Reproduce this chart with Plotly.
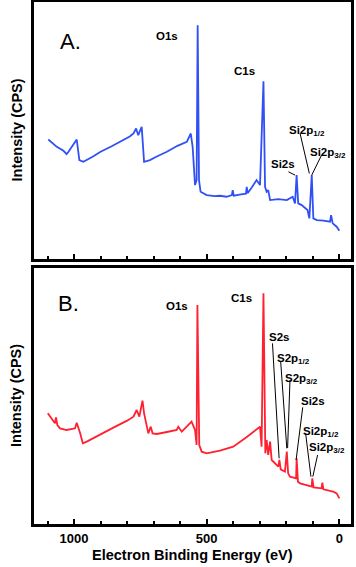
import plotly.graph_objects as go

# ---------------- data (intensity in arbitrary units) ----------------
energy_A = [1097, 1065, 1040, 1028, 1021, 1009, 996, 990, 980, 965, 930, 900, 860, 820, 790,
            776, 766, 758, 745, 736, 714, 690, 650, 610, 575, 560, 553, 544, 538, 534, 529,
            523, 500, 470, 450, 425, 405, 402, 398, 370, 352, 349, 346, 330, 312, 299, 286,
            280, 274, 268, 261, 230, 198, 176, 167, 161, 155, 142, 129, 120, 113, 104, 98,
            85, 60, 35, 31, 25, 10, 0]
intensity_A = [359, 337, 325, 315, 322, 337, 352, 359, 297, 292, 307, 322, 338, 355, 368,
               377, 392, 372, 397, 292, 297, 307, 322, 340, 352, 377, 337, 222, 237, 702, 237,
               202, 192, 189, 190, 187, 192, 207, 190, 194, 196, 217, 198, 215, 237, 222, 534,
               217, 202, 207, 177, 180, 177, 187, 167, 252, 167, 162, 152, 147, 122, 252, 122,
               117, 115, 112, 132, 107, 97, 85]

energy_B = [1099, 1090, 1072, 1068, 1063, 1053, 1028, 996, 990, 977, 967, 952, 900, 850,
            800, 776, 764, 754, 742, 736, 720, 711, 704, 688, 650, 613, 607, 594, 557, 544,
            538, 535, 528, 519, 500, 450, 400, 350, 299, 293, 286, 279, 274, 268, 261, 255,
            230, 226, 221, 205, 198, 193, 186, 163, 161, 156, 148, 120, 104, 102, 97, 67,
            64, 60, 23, 10, 0]
intensity_B = [332, 322, 302, 320, 297, 287, 282, 287, 304, 272, 242, 247, 270, 290,
               310, 322, 342, 322, 370, 332, 272, 292, 272, 270, 276, 282, 292, 277, 307, 282,
               237, 657, 237, 217, 212, 220, 232, 260, 292, 232, 692, 212, 252, 207, 247, 192,
               172, 192, 164, 157, 217, 152, 142, 137, 197, 127, 122, 117, 112, 137, 110, 107,
               124, 104, 97, 92, 77]

# peak labels: (text, energy, intensity)
labels_A = [("O1s", 648, 669), ("C1s", 356, 564), ("Si2s", 214, 285),
            ("Si2p<sub>1/2</sub>", 121, 385), ("Si2p<sub>3/2</sub>", 41, 317)]
leaders_A = [(192, 262, 167, 252), (148, 377, 113, 257), (67, 312, 104, 252)]

labels_B = [("O1s", 613, 654), ("C1s", 368, 677), ("S2s", 226, 560),
            ("S2p<sub>1/2</sub>", 173, 495), ("S2p<sub>3/2</sub>", 144, 435),
            ("Si2s", 98, 370), ("Si2p<sub>1/2</sub>", 70, 277), ("Si2p<sub>3/2</sub>", 45, 227)]
leaders_B = [(252, 542, 227, 197), (221, 487, 198, 227), (186, 432, 195, 228),
             (138, 350, 163, 192), (127, 272, 107, 142), (82, 207, 100, 142)]

major_ticks = [1000, 500, 0]
tick_text = ["1000", "500", "0"]

# ---------------- figure ----------------
W, H = 356, 567
xdom = [34 / W, 351 / W]
ydomA = [(H - 259) / H, (H - 2) / H]
ydomB = [(H - 524) / H, (H - 268) / H]
xrange_ = [1151, -44]
FONT = "Liberation Sans, Arial, sans-serif"

fig = go.Figure()
fig.add_trace(go.Scatter(x=energy_A, y=intensity_A, mode="lines",
                         line=dict(color="#3050f5", width=1.8), xaxis="x", yaxis="y",
                         showlegend=False, hoverinfo="skip"))
fig.add_trace(go.Scatter(x=energy_B, y=intensity_B, mode="lines",
                         line=dict(color="#ff2030", width=1.8), xaxis="x2", yaxis="y2",
                         showlegend=False, hoverinfo="skip"))

axis_common = dict(range=xrange_, domain=xdom, showline=True, mirror=True,
                   linecolor="black", linewidth=3, showgrid=False, zeroline=False,
                   tickmode="array", tickvals=major_ticks, ticks="inside",
                   ticklen=5, tickwidth=2, tickcolor="black",
                   minor=dict(tickmode="linear", tick0=0, dtick=100, ticks="inside",
                              ticklen=3, tickwidth=2, tickcolor="black", showgrid=False))
yaxis_common = dict(showline=True, mirror=True, linecolor="black", linewidth=3,
                    showgrid=False, zeroline=False, showticklabels=False, ticks="")
top_common = dict(range=xrange_, domain=xdom, side="top", showline=False, showgrid=False,
                  zeroline=False, tickmode="array", tickvals=major_ticks, ticks="inside",
                  ticklen=5, tickwidth=2, tickcolor="black", showticklabels=False)

fig.update_layout(
    width=W, height=H, margin=dict(l=0, r=0, t=0, b=0),
    paper_bgcolor="white", plot_bgcolor="white",
    font=dict(family=FONT, color="black"),
    xaxis=dict(anchor="y", showticklabels=False, **axis_common),
    yaxis=dict(anchor="x", domain=ydomA, range=[0, 772], **yaxis_common),
    xaxis2=dict(anchor="y2", showticklabels=True, ticktext=tick_text,
                tickfont=dict(size=13, family=FONT, weight="bold"), **axis_common),
    yaxis2=dict(anchor="x2", domain=ydomB, range=[0, 768], **yaxis_common),
    xaxis3=dict(anchor="y", overlaying="x", **top_common),
    xaxis4=dict(anchor="y2", overlaying="x2", **top_common),
)

ann = []
ann.append(dict(text="A.", x=1015, y=652, xref="x", yref="y", showarrow=False,
                xanchor="center", yanchor="middle", font=dict(size=22, family=FONT)))
ann.append(dict(text="B.", x=1021, y=662, xref="x2", yref="y2", showarrow=False,
                xanchor="center", yanchor="middle", font=dict(size=22, family=FONT)))
for t, xv, yv in labels_A:
    ann.append(dict(text=t, x=xv, y=yv, xref="x", yref="y", showarrow=False,
                    xanchor="center", yanchor="middle",
                    font=dict(size=11.5, family=FONT, weight="bold")))
for t, xv, yv in labels_B:
    ann.append(dict(text=t, x=xv, y=yv, xref="x2", yref="y2", showarrow=False,
                    xanchor="center", yanchor="middle",
                    font=dict(size=11.5, family=FONT, weight="bold")))
for dom in (ydomA, ydomB):
    ann.append(dict(text="Intensity (CPS)", x=16 / W, y=(dom[0] + dom[1]) / 2,
                    xref="paper", yref="paper", showarrow=False, textangle=-90,
                    xanchor="center", yanchor="middle",
                    font=dict(size=14.5, family=FONT, weight="bold")))
ann.append(dict(text="Electron Binding Energy (eV)", x=(xdom[0] + xdom[1]) / 2,
                y=(H - 555) / H, xref="paper", yref="paper", showarrow=False,
                xanchor="center", yanchor="middle",
                font=dict(size=14.5, family=FONT, weight="bold")))
fig.update_layout(annotations=ann)

shapes = []
for x0, y0, x1, y1 in leaders_A:
    shapes.append(dict(type="line", xref="x", yref="y", x0=x0, y0=y0, x1=x1, y1=y1,
                       line=dict(color="black", width=1)))
for x0, y0, x1, y1 in leaders_B:
    shapes.append(dict(type="line", xref="x2", yref="y2", x0=x0, y0=y0, x1=x1, y1=y1,
                       line=dict(color="black", width=1)))
fig.update_layout(shapes=shapes)

fig.write_html("out.html", config={"displayModeBar": False},
               post_script="document.body.style.margin='0';document.body.style.padding='0';")
